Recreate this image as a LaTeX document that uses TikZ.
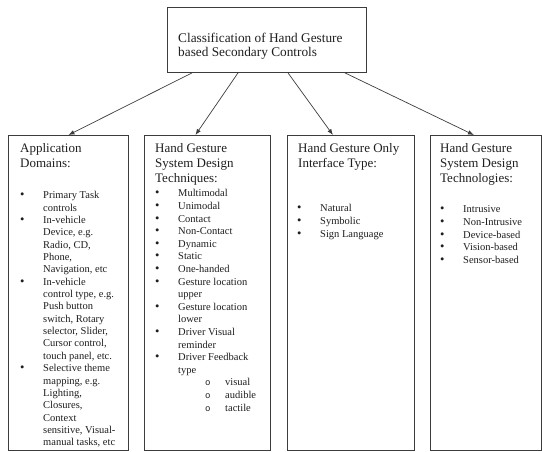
\documentclass[tikz,border=0pt]{standalone}
\usepackage{fontspec}
\setmainfont{Liberation Serif}
\newfontfamily\subbulfont{Liberation Mono}
\usetikzlibrary{arrows.meta,positioning,calc}
\definecolor{gsline}{HTML}{3C3C3C}
\definecolor{gstext}{HTML}{1E1E1E}
\newcommand{\gbul}{\makebox[23pt][l]{\fontsize{12.5}{12}\selectfont\textbullet}}
\newcommand{\gind}{\hspace*{23pt}}
\newcommand{\gsubbul}{\hspace*{50pt}\makebox[20pt][l]{\subbulfont\fontsize{9}{9}\selectfont o}}

\begin{document}
\begin{tikzpicture}[x=1pt,y=-1pt,
  gbox/.style={draw=gsline,line width=0.9pt,inner sep=0pt,anchor=north west},
  head/.style={anchor=north west,inner sep=0pt,align=left,text=gstext,
    font=\fontsize{13}{15}\selectfont},
  items/.style={anchor=north west,inner sep=0pt,align=left,text=gstext,
    font=\fontsize{10.5}{12.6}\selectfont},
  arr/.style={-{Latex[length=6pt,width=4.5pt]},draw=gsline,line width=0.7pt}]

  \useasboundingbox (0,0) rectangle (542,452);

  % ---- Top box ---------------------------------------------
  \node[gbox,minimum width=199pt,minimum height=65pt] (title) at (167,7) {};
  \node[head,font=\fontsize{13.3}{14.4}\selectfont] (titletext) at (178,32.5)
    {Classification of Hand Gesture\\based Secondary Controls};

  % ---- Four category boxes ----------------------------------
  \node[gbox,minimum width=120pt,minimum height=315pt] (apps)  at (8,135)   {};
  \node[gbox,minimum width=126pt,minimum height=315pt] (techn) at (144,135) {};
  \node[gbox,minimum width=127pt,minimum height=315pt] (iface) at (287,135) {};
  \node[gbox,minimum width=111pt,minimum height=315pt] (techg) at (430,135) {};

  % ---- Arrows -----------------------------------------------
  \draw[arr] ($(title.south west)+(25,0)$)  -- (apps.north);
  \draw[arr] ($(title.south west)+(71,0)$)  -- ($(techn.north)+(-12,0)$);
  \draw[arr] ($(title.south west)+(121,0)$) -- ($(iface.north)+(-18,0)$);
  \draw[arr] ($(title.south west)+(178,0)$) -- ($(techg.north)+(-12,0)$);

  % ---- Headings ---------------------------------------------
  \node[head] (appshead)  at (20,143.5)  {Application\\Domains:};
  \node[head] (technhead) at (155,143.5) {Hand Gesture\\System Design\\Techniques:};
  \node[head] (ifacehead) at (298,143.5) {Hand Gesture Only\\Interface Type:};
  \node[head] (techghead) at (440,143.5) {Hand Gesture\\System Design\\Technologies:};

  % ---- Application domains ----------------------------------
  \node[items,font=\fontsize{10.5}{12.35}\selectfont] (appslist) at (20,191.3)
    {\gbul Primary Task\\
     \gind controls\\
     \gbul In-vehicle\\
     \gind Device, e.g.\\
     \gind Radio, CD,\\
     \gind Phone,\\
     \gind Navigation, etc\\
     \gbul In-vehicle\\
     \gind control type, e.g.\\
     \gind Push button\\
     \gind switch, Rotary\\
     \gind selector, Slider,\\
     \gind Cursor control,\\
     \gind touch panel, etc.\\
     \gbul Selective theme\\
     \gind mapping, e.g.\\
     \gind Lighting,\\
     \gind Closures,\\
     \gind Context\\
     \gind sensitive, Visual-\\
     \gind manual tasks, etc};

  % ---- Design techniques ------------------------------------
  \node[items] (technlist) at (155,189.5)
    {\gbul Multimodal\\
     \gbul Unimodal\\
     \gbul Contact\\
     \gbul Non-Contact\\
     \gbul Dynamic\\
     \gbul Static\\
     \gbul One-handed\\
     \gbul Gesture location\\
     \gind upper\\
     \gbul Gesture location\\
     \gind lower\\
     \gbul Driver Visual\\
     \gind reminder\\
     \gbul Driver Feedback\\
     \gind type\\
     \gsubbul visual\\
     \gsubbul audible\\
     \gsubbul tactile};

  % ---- Interface type ---------------------------------------
  \node[items,font=\fontsize{10.5}{12.9}\selectfont] (ifacelist) at (297,204.5)
    {\gbul Natural\\
     \gbul Symbolic\\
     \gbul Sign Language};

  % ---- Design technologies ----------------------------------
  \node[items,font=\fontsize{10.5}{12.7}\selectfont] (techglist) at (440,205.5)
    {\gbul Intrusive\\
     \gbul Non-Intrusive\\
     \gbul Device-based\\
     \gbul Vision-based\\
     \gbul Sensor-based};

\end{tikzpicture}
\end{document}
